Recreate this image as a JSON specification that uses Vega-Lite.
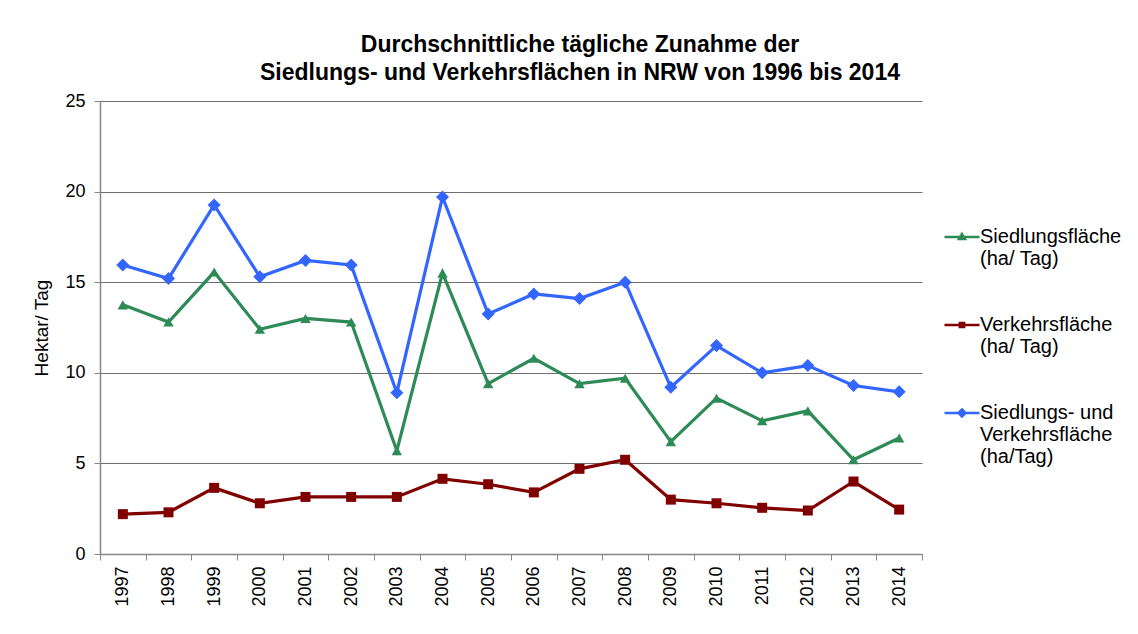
{
  "$schema": "https://vega.github.io/schema/vega-lite/v6.json",
  "width": 822,
  "height": 453,
  "autosize": {"type": "none"},
  "padding": {"left": 100, "top": 101, "right": 216, "bottom": 80},
  "background": "white",
  "title": {
    "text": ["Durchschnittliche tägliche Zunahme der", "Siedlungs- und Verkehrsflächen in NRW von 1996 bis 2014"],
    "font": "Liberation Sans",
    "fontSize": 23,
    "fontWeight": "bold",
    "color": "#000000",
    "anchor": "middle",
    "dx": 69,
    "offset": 7,
    "lineHeight": 28
  },
  "data": {
    "values": [
      {"year": "1997", "series": "Siedlungsfläche (ha/ Tag)", "value": 13.75},
      {"year": "1998", "series": "Siedlungsfläche (ha/ Tag)", "value": 12.8},
      {"year": "1999", "series": "Siedlungsfläche (ha/ Tag)", "value": 15.56},
      {"year": "2000", "series": "Siedlungsfläche (ha/ Tag)", "value": 12.4},
      {"year": "2001", "series": "Siedlungsfläche (ha/ Tag)", "value": 13.0},
      {"year": "2002", "series": "Siedlungsfläche (ha/ Tag)", "value": 12.8},
      {"year": "2003", "series": "Siedlungsfläche (ha/ Tag)", "value": 5.7},
      {"year": "2004", "series": "Siedlungsfläche (ha/ Tag)", "value": 15.5},
      {"year": "2005", "series": "Siedlungsfläche (ha/ Tag)", "value": 9.4},
      {"year": "2006", "series": "Siedlungsfläche (ha/ Tag)", "value": 10.8},
      {"year": "2007", "series": "Siedlungsfläche (ha/ Tag)", "value": 9.4},
      {"year": "2008", "series": "Siedlungsfläche (ha/ Tag)", "value": 9.7},
      {"year": "2009", "series": "Siedlungsfläche (ha/ Tag)", "value": 6.2},
      {"year": "2010", "series": "Siedlungsfläche (ha/ Tag)", "value": 8.6},
      {"year": "2011", "series": "Siedlungsfläche (ha/ Tag)", "value": 7.35},
      {"year": "2012", "series": "Siedlungsfläche (ha/ Tag)", "value": 7.9},
      {"year": "2013", "series": "Siedlungsfläche (ha/ Tag)", "value": 5.2},
      {"year": "2014", "series": "Siedlungsfläche (ha/ Tag)", "value": 6.4},
      {"year": "1997", "series": "Verkehrsfläche (ha/ Tag)", "value": 2.2},
      {"year": "1998", "series": "Verkehrsfläche (ha/ Tag)", "value": 2.3},
      {"year": "1999", "series": "Verkehrsfläche (ha/ Tag)", "value": 3.65},
      {"year": "2000", "series": "Verkehrsfläche (ha/ Tag)", "value": 2.8},
      {"year": "2001", "series": "Verkehrsfläche (ha/ Tag)", "value": 3.15},
      {"year": "2002", "series": "Verkehrsfläche (ha/ Tag)", "value": 3.15},
      {"year": "2003", "series": "Verkehrsfläche (ha/ Tag)", "value": 3.15},
      {"year": "2004", "series": "Verkehrsfläche (ha/ Tag)", "value": 4.15},
      {"year": "2005", "series": "Verkehrsfläche (ha/ Tag)", "value": 3.85},
      {"year": "2006", "series": "Verkehrsfläche (ha/ Tag)", "value": 3.4},
      {"year": "2007", "series": "Verkehrsfläche (ha/ Tag)", "value": 4.7},
      {"year": "2008", "series": "Verkehrsfläche (ha/ Tag)", "value": 5.2},
      {"year": "2009", "series": "Verkehrsfläche (ha/ Tag)", "value": 3.0},
      {"year": "2010", "series": "Verkehrsfläche (ha/ Tag)", "value": 2.8},
      {"year": "2011", "series": "Verkehrsfläche (ha/ Tag)", "value": 2.55},
      {"year": "2012", "series": "Verkehrsfläche (ha/ Tag)", "value": 2.4},
      {"year": "2013", "series": "Verkehrsfläche (ha/ Tag)", "value": 4.0},
      {"year": "2014", "series": "Verkehrsfläche (ha/ Tag)", "value": 2.45},
      {"year": "1997", "series": "Siedlungs- und Verkehrsfläche (ha/Tag)", "value": 15.95},
      {"year": "1998", "series": "Siedlungs- und Verkehrsfläche (ha/Tag)", "value": 15.2},
      {"year": "1999", "series": "Siedlungs- und Verkehrsfläche (ha/Tag)", "value": 19.26},
      {"year": "2000", "series": "Siedlungs- und Verkehrsfläche (ha/Tag)", "value": 15.3},
      {"year": "2001", "series": "Siedlungs- und Verkehrsfläche (ha/Tag)", "value": 16.2},
      {"year": "2002", "series": "Siedlungs- und Verkehrsfläche (ha/Tag)", "value": 15.95},
      {"year": "2003", "series": "Siedlungs- und Verkehrsfläche (ha/Tag)", "value": 8.9},
      {"year": "2004", "series": "Siedlungs- und Verkehrsfläche (ha/Tag)", "value": 19.7},
      {"year": "2005", "series": "Siedlungs- und Verkehrsfläche (ha/Tag)", "value": 13.25},
      {"year": "2006", "series": "Siedlungs- und Verkehrsfläche (ha/Tag)", "value": 14.35},
      {"year": "2007", "series": "Siedlungs- und Verkehrsfläche (ha/Tag)", "value": 14.1},
      {"year": "2008", "series": "Siedlungs- und Verkehrsfläche (ha/Tag)", "value": 15.0},
      {"year": "2009", "series": "Siedlungs- und Verkehrsfläche (ha/Tag)", "value": 9.2},
      {"year": "2010", "series": "Siedlungs- und Verkehrsfläche (ha/Tag)", "value": 11.5},
      {"year": "2011", "series": "Siedlungs- und Verkehrsfläche (ha/Tag)", "value": 10.0},
      {"year": "2012", "series": "Siedlungs- und Verkehrsfläche (ha/Tag)", "value": 10.4},
      {"year": "2013", "series": "Siedlungs- und Verkehrsfläche (ha/Tag)", "value": 9.3},
      {"year": "2014", "series": "Siedlungs- und Verkehrsfläche (ha/Tag)", "value": 8.95}
    ]
  },
  "encoding": {
    "x": {
      "field": "year",
      "type": "ordinal",
      "bandPosition": 0.5,
      "scale": {"type": "band", "paddingInner": 0, "paddingOuter": 0},
      "axis": {
        "title": null,
        "labelAngle": -90,
        "labelAlign": "right",
        "labelBaseline": "middle",
        "labelFont": "Liberation Sans",
        "labelFontSize": 18,
        "labelColor": "#000000",
        "labelPadding": 6,
        "tickBand": "extent",
        "tickSize": 6,
        "tickColor": "#868686",
        "domainColor": "#868686",
        "domainWidth": 1.5,
        "grid": false
      }
    },
    "y": {
      "field": "value",
      "type": "quantitative",
      "scale": {"domain": [0, 25]},
      "axis": {
        "title": "Hektar/ Tag",
        "titleFont": "Liberation Sans",
        "titleFontSize": 19,
        "titleFontWeight": "normal",
        "titleColor": "#000000",
        "titlePadding": 13,
        "values": [0, 5, 10, 15, 20, 25],
        "labelFont": "Liberation Sans",
        "labelFontSize": 18,
        "labelColor": "#000000",
        "labelPadding": 9,
        "tickSize": 6,
        "tickColor": "#868686",
        "domainColor": "#868686",
        "domainWidth": 1.5,
        "grid": true,
        "gridColor": "#6e6e6e",
        "gridWidth": 1.2
      }
    },
    "color": {
      "field": "series",
      "type": "nominal",
      "sort": ["Siedlungsfläche (ha/ Tag)", "Verkehrsfläche (ha/ Tag)", "Siedlungs- und Verkehrsfläche (ha/Tag)"],
      "scale": {
        "domain": ["Siedlungsfläche (ha/ Tag)", "Verkehrsfläche (ha/ Tag)", "Siedlungs- und Verkehrsfläche (ha/Tag)"],
        "range": ["#2e8b57", "#800000", "#3366ff"]
      },
      "legend": {
        "title": null,
        "orient": "none",
        "legendX": 843,
        "legendY": 117,
        "labelFont": "Liberation Sans",
        "labelFontSize": 20,
        "labelColor": "#000000",
        "labelLimit": 300,
        "labelExpr": "datum.label == 'Siedlungs- und Verkehrsfläche (ha/Tag)' ? ['Siedlungs- und', 'Verkehrsfläche', '(ha/Tag)'] : datum.label == 'Siedlungsfläche (ha/ Tag)' ? ['Siedlungsfläche', '(ha/ Tag)'] : ['Verkehrsfläche', '(ha/ Tag)']",
        "rowPadding": 37,
        "symbolSize": 1225,
        "labelOffset": -1,
        "labelBaseline": "top",
        "encode": {
          "symbols": {
            "update": {
              "shape": {"signal": "datum.value == 'Siedlungsfläche (ha/ Tag)' ? 'M-1,0L1,0M0,-0.17L0.17,0.12L-0.17,0.12Z' : datum.value == 'Verkehrsfläche (ha/ Tag)' ? 'M-1,0L1,0M-0.12,-0.12H0.12V0.12H-0.12Z' : 'M-1,0L1,0M0,-0.2L0.2,0L0,0.2L-0.2,0Z'"},
              "size": {"value": 1225},
              "stroke": {"scale": "color", "field": "value"},
              "fill": {"scale": "color", "field": "value"},
              "strokeWidth": {"value": 2.5},
              "opacity": {"value": 1}
            }
          },
          "labels": {
            "update": {
              "dy": {"value": -10}
            }
          }
        }
      }
    }
  },
  "layer": [
    {
      "mark": {"type": "line", "strokeWidth": 3.2},
      "encoding": {"detail": {"field": "series"}}
    },
    {
      "transform": [{"filter": "datum.series == 'Siedlungsfläche (ha/ Tag)'"}],
      "mark": {"type": "point", "filled": true, "opacity": 1, "size": 110, "shape": "triangle-up"}
    },
    {
      "transform": [{"filter": "datum.series == 'Verkehrsfläche (ha/ Tag)'"}],
      "mark": {"type": "point", "filled": true, "opacity": 1, "size": 100, "shape": "square"}
    },
    {
      "transform": [{"filter": "datum.series == 'Siedlungs- und Verkehrsfläche (ha/Tag)'"}],
      "mark": {"type": "point", "filled": true, "opacity": 1, "size": 170, "shape": "diamond"}
    }
  ],
  "config": {
    "view": {"stroke": null},
    "font": "Liberation Sans"
  }
}
